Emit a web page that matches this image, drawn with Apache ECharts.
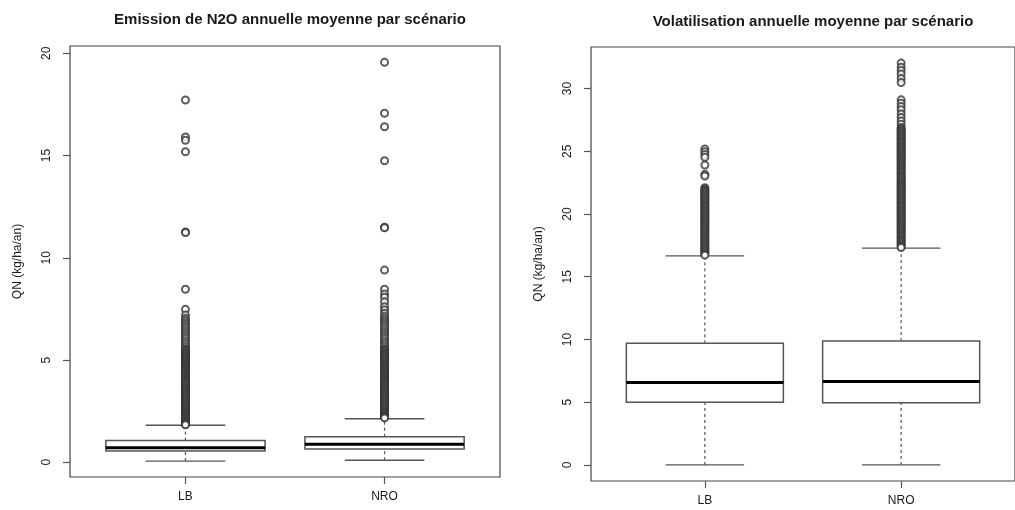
<!DOCTYPE html>
<html>
<head>
<meta charset="utf-8">
<script src="https://cdn.jsdelivr.net/npm/echarts@6/dist/echarts.min.js"></script>
<style>
html,body{margin:0;padding:0;background:#fff;}
#chart{width:1015px;height:510px;}
</style>
</head>
<body>
<div id="chart"></div>
<script>
// ---- Data ----
const categories = ['LB', 'NRO'];
const yTicksN2O = [0, 5, 10, 15, 20];
const yTicksVol = [0, 5, 10, 15, 20, 25, 30];
const titleN2O = 'Emission de N2O annuelle moyenne par scénario';
const titleVol = 'Volatilisation annuelle moyenne par scénario';
const yName = 'QN (kg/ha/an)';

// box stats: [lower whisker, Q1, median, Q3, upper whisker]
const n2oBoxLB  = [0.06, 0.55, 0.71, 1.06, 1.81];
const n2oBoxNRO = [0.10, 0.65, 0.88, 1.25, 2.13];
const volBoxLB  = [0.0, 5.0, 6.57, 9.69, 16.66];
const volBoxNRO = [0.0, 4.95, 6.65, 9.87, 17.28];

const n2oOutLB = [17.72, 15.91, 15.75, 15.19, 11.26, 11.24, 8.46, 7.48, 7.20, 7.04,
  6.95,6.85,6.75,6.65,6.55,6.45,6.35,6.25,6.15,6.05,5.95,5.85,5.75,5.65,5.55,
  5.50,5.45,5.40,5.35,5.30,5.25,5.20,5.15,5.10,5.05,
  5.00,4.95,4.90,4.85,4.80,4.75,4.70,4.65,4.60,4.55,
  4.50,4.45,4.40,4.35,4.30,4.25,4.20,4.15,4.10,4.05,
  4.00,3.95,3.90,3.85,3.80,3.75,3.70,3.65,3.60,3.55,
  3.50,3.45,3.40,3.35,3.30,3.25,3.20,3.15,3.10,3.05,
  3.00,2.95,2.90,2.85,2.80,2.75,2.70,2.65,2.60,2.55,
  2.50,2.45,2.40,2.35,2.30,2.25,2.20,2.15,2.10,2.05,
  2.00,1.95,1.90,1.86,1.83];
const n2oOutNRO = [19.56, 17.07, 16.41, 14.75, 11.50, 11.47, 9.40, 8.46, 8.23, 8.07, 7.85, 7.61, 7.45, 7.29,
  7.15,7.05,6.95,6.85,6.75,6.65,6.55,6.45,6.35,6.25,6.15,6.05,5.95,5.85,5.75,5.65,5.55,
  5.50,5.45,5.40,5.35,5.30,5.25,5.20,5.15,5.10,5.05,
  5.00,4.95,4.90,4.85,4.80,4.75,4.70,4.65,4.60,4.55,
  4.50,4.45,4.40,4.35,4.30,4.25,4.20,4.15,4.10,4.05,
  4.00,3.95,3.90,3.85,3.80,3.75,3.70,3.65,3.60,3.55,
  3.50,3.45,3.40,3.35,3.30,3.25,3.20,3.15,3.10,3.05,
  3.00,2.95,2.90,2.85,2.80,2.75,2.70,2.65,2.60,2.55,
  2.50,2.45,2.40,2.35,2.30,2.25,2.20,2.17];
const volOutLB = [25.18, 24.97, 24.75, 24.52, 23.90, 23.16, 23.03,
  22.1,22.0,21.9,21.8,21.7,21.6,21.5,21.4,21.3,21.2,21.1,21.0,
  20.9,20.8,20.7,20.6,20.5,20.4,20.3,20.2,20.1,20.0,
  19.9,19.8,19.7,19.6,19.5,19.4,19.3,19.2,19.1,19.0,
  18.9,18.8,18.7,18.6,18.5,18.4,18.3,18.2,18.1,18.0,
  17.9,17.8,17.7,17.6,17.5,17.4,17.3,17.2,17.1,17.0,
  16.9,16.8,16.72];
const volOutNRO = [32.03, 31.7, 31.44, 31.15, 30.8, 30.48, 29.1, 28.83, 28.56, 28.3, 27.98, 27.7, 27.42, 27.15,
  26.9,26.8,26.7,26.6,26.5,26.4,26.3,26.2,26.1,26.0,
  25.9,25.8,25.7,25.6,25.5,25.4,25.3,25.2,25.1,25.0,
  24.9,24.8,24.7,24.6,24.5,24.4,24.3,24.2,24.1,24.0,
  23.9,23.8,23.7,23.6,23.5,23.4,23.3,23.2,23.1,23.0,
  22.9,22.8,22.7,22.6,22.5,22.4,22.3,22.2,22.1,22.0,
  21.9,21.8,21.7,21.6,21.5,21.4,21.3,21.2,21.1,21.0,
  20.9,20.8,20.7,20.6,20.5,20.4,20.3,20.2,20.1,20.0,
  19.9,19.8,19.7,19.6,19.5,19.4,19.3,19.2,19.1,19.0,
  18.9,18.8,18.7,18.6,18.5,18.4,18.3,18.2,18.1,18.0,
  17.9,17.8,17.7,17.6,17.5,17.4,17.33];

// ---- Chart ----
const FONT = '"Liberation Sans", Arial, Helvetica, sans-serif';
const TXT = '#1a1a1a';
const LINE = '#555';

function boxRender(params, api) {
  const x = api.value(0);
  const low = api.coord([x, api.value(1)]);
  const q1 = api.coord([x, api.value(2)]);
  const med = api.coord([x, api.value(3)]);
  const q3 = api.coord([x, api.value(4)]);
  const high = api.coord([x, api.value(5)]);
  const cx = low[0];
  const halfW = api.size([0.4, 0])[0];
  const capW = halfW / 2;
  const dash = {stroke: LINE, lineWidth: 1.2, lineDash: [3, 3]};
  const solid = {stroke: LINE, lineWidth: 1.3};
  return {
    type: 'group',
    children: [
      {type: 'line', shape: {x1: cx, y1: low[1], x2: cx, y2: q1[1]}, style: dash},
      {type: 'line', shape: {x1: cx, y1: q3[1], x2: cx, y2: high[1]}, style: dash},
      {type: 'line', shape: {x1: cx - capW, y1: low[1], x2: cx + capW, y2: low[1]}, style: solid},
      {type: 'line', shape: {x1: cx - capW, y1: high[1], x2: cx + capW, y2: high[1]}, style: solid},
      {type: 'rect', shape: {x: cx - halfW, y: q3[1], width: 2 * halfW, height: q1[1] - q3[1]},
        style: {fill: '#fff', stroke: LINE, lineWidth: 1.5}},
      {type: 'line', shape: {x1: cx - halfW, y1: med[1], x2: cx + halfW, y2: med[1]},
        style: {stroke: '#000', lineWidth: 3}}
    ]
  };
}

function xAxisDef(gridIndex) {
  return {
    type: 'value', gridIndex: gridIndex, min: 0.42, max: 2.58,
    axisLine: {show: false, onZero: false},
    splitLine: {show: false},
    axisTick: {show: true, length: 7, customValues: [1, 2], lineStyle: {color: LINE, width: 1.2}},
    axisLabel: {customValues: [1, 2], formatter: v => categories[Math.round(v) - 1],
      fontFamily: FONT, fontSize: 12, color: TXT, margin: 14}
  };
}
function yAxisDef(gridIndex, min, max, ticks) {
  return {
    type: 'value', gridIndex: gridIndex, min: min, max: max,
    axisLine: {show: false, onZero: false},
    splitLine: {show: false},
    axisTick: {show: true, length: 7, customValues: ticks, lineStyle: {color: LINE, width: 1.2}},
    axisLabel: {customValues: ticks, rotate: 90, margin: 17,
      fontFamily: FONT, fontSize: 12, color: TXT},
    name: yName, nameLocation: 'middle', nameGap: 46,
    nameTextStyle: {fontFamily: FONT, fontSize: 12, color: TXT}
  };
}
function outlierSeries(idx, vals, cat) {
  return {
    type: 'scatter', xAxisIndex: idx, yAxisIndex: idx,
    data: vals.map(v => [cat, v]),
    symbol: 'emptyCircle', symbolSize: 7,
    itemStyle: {color: '#333', borderWidth: 1},
    silent: true, z: 3
  };
}

const option = {
  animation: false,
  backgroundColor: '#fff',
  title: [
    {text: titleN2O, left: 285, top: 7, textAlign: 'center',
      textStyle: {fontFamily: FONT, fontSize: 15, fontWeight: 'bold', color: TXT}},
    {text: titleVol, left: 808, top: 9, textAlign: 'center',
      textStyle: {fontFamily: FONT, fontSize: 15, fontWeight: 'bold', color: TXT}}
  ],
  grid: [
    {left: 70, top: 46, width: 430, height: 431, show: true, borderColor: '#444', borderWidth: 1.2, backgroundColor: 'transparent'},
    {left: 591, top: 47, width: 434, height: 434, show: true, borderColor: '#444', borderWidth: 1.2, backgroundColor: 'transparent'}
  ],
  xAxis: [xAxisDef(0), xAxisDef(1)],
  yAxis: [yAxisDef(0, -0.72, 20.36, yTicksN2O), yAxisDef(1, -1.28, 33.31, yTicksVol)],
  series: [
    {type: 'custom', xAxisIndex: 0, yAxisIndex: 0, renderItem: boxRender,
      encode: {x: 0, y: [1, 2, 3, 4, 5]},
      data: [[1].concat(n2oBoxLB), [2].concat(n2oBoxNRO)], z: 2},
    {type: 'custom', xAxisIndex: 1, yAxisIndex: 1, renderItem: boxRender,
      encode: {x: 0, y: [1, 2, 3, 4, 5]},
      data: [[1].concat(volBoxLB), [2].concat(volBoxNRO)], z: 2},
    outlierSeries(0, n2oOutLB, 1),
    outlierSeries(0, n2oOutNRO, 2),
    outlierSeries(1, volOutLB, 1),
    outlierSeries(1, volOutNRO, 2)
  ]
};

const chart = echarts.init(document.getElementById('chart'), null, {renderer: 'canvas'});
chart.setOption(option);
</script>
</body>
</html>
